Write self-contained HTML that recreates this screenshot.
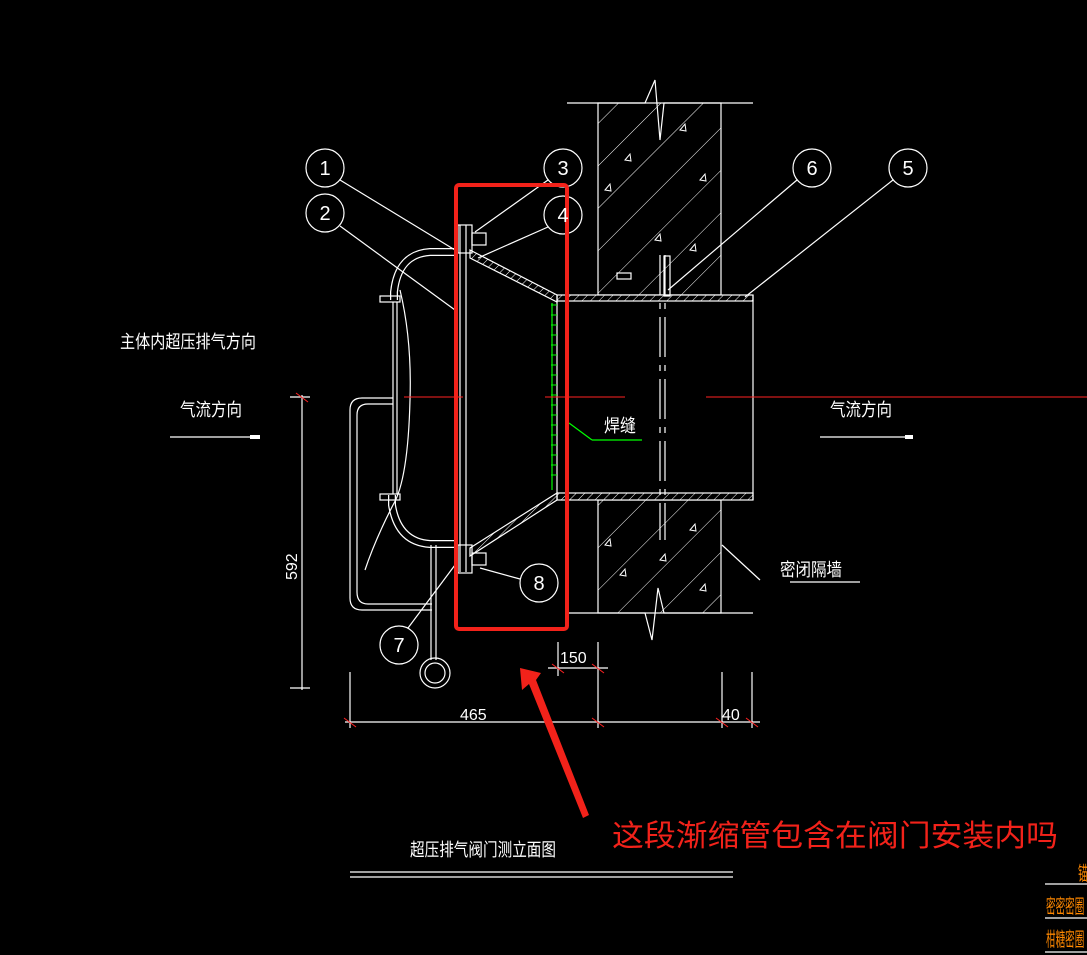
<!DOCTYPE html>
<html><head><meta charset="utf-8"><style>
html,body{margin:0;padding:0;background:#000;}
svg{display:block}
text{font-family:"Liberation Sans","Noto Sans CJK SC",sans-serif;fill:#fff;}
text.o{fill:#f80;}
</style></head><body>
<svg width="1087" height="955" viewBox="0 0 1087 955" xmlns="http://www.w3.org/2000/svg">
<defs>
<pattern id="h" width="6" height="6" patternUnits="userSpaceOnUse" patternTransform="rotate(45)">
<rect width="6" height="6" fill="#000"/><line x1="0" y1="0" x2="0" y2="6" stroke="#fff" stroke-width="1"/></pattern>
<pattern id="c" width="30" height="30" patternUnits="userSpaceOnUse" patternTransform="rotate(-45)">
<line x1="0" y1="0" x2="30" y2="0" stroke="#fff" stroke-width="1"/></pattern>
</defs>
<g fill="none" stroke="#fff" stroke-width="1.2">
<rect x="598" y="103" width="123" height="192" fill="url(#c)"/>
<rect x="598" y="500" width="123" height="113" fill="url(#c)"/>
<polyline points="567,103 645,103 655,80 660,140 664,103 753,103"/>
<polyline points="567,613 645,613 652,640 658,588 664,613 753,613"/>
<g stroke-width="1">
<path d="M605,190 l5,-6 l1,7z M680,130 l5,-6 l1,7z M700,180 l5,-6 l1,7z M655,240 l5,-6 l1,7z M625,160 l5,-6 l1,7z M690,250 l5,-6 l1,7z M605,545 l5,-6 l1,7z M690,530 l5,-6 l1,7z M620,575 l5,-6 l1,7z M700,590 l5,-6 l1,7z M660,560 l5,-6 l1,7z"/>
</g>
<rect x="557" y="295" width="196" height="6" fill="url(#h)"/>
<rect x="557" y="493" width="196" height="7" fill="url(#h)"/>
<line x1="753" y1="295" x2="753" y2="500"/>
<line x1="660" y1="255" x2="660" y2="540" stroke-dasharray="40,8,6,8"/>
<line x1="665" y1="255" x2="665" y2="540" stroke-dasharray="40,8,6,8"/>
<line x1="460" y1="225" x2="460" y2="572"/><line x1="466" y1="225" x2="466" y2="572"/>
<polygon points="470,250 557,295 557,302 470,258" fill="url(#h)"/>
<polygon points="470,548 557,493 557,500 470,556" fill="url(#h)"/>
<line x1="557" y1="295" x2="557" y2="500"/>
<rect x="458" y="225" width="14" height="28"/><rect x="472" y="233" width="14" height="12"/>
<rect x="458" y="545" width="14" height="28"/><rect x="472" y="553" width="14" height="12"/>
<path d="M458,252 L430,252 Q398,254 394,292 L394,300" stroke-width="8" stroke="#fff"/>
<path d="M458,252 L430,252 Q398,254 394,292 L394,300" stroke-width="5.5" stroke="#000"/>
<path d="M458,544 L430,544 Q398,542 392,505 L392,495" stroke-width="8" stroke="#fff"/>
<path d="M458,544 L430,544 Q398,542 392,505 L392,495" stroke-width="5.5" stroke="#000"/>
<rect x="380" y="296" width="20" height="6"/><rect x="380" y="494" width="20" height="6"/>
<line x1="393" y1="302" x2="393" y2="494"/><line x1="397" y1="302" x2="397" y2="494"/>
<path d="M400,290 Q412,340 410,400 Q408,480 393,505 Q375,540 365,570"/>
<path d="M393,398 L362,398 Q350,398 350,410 L350,598 Q350,610 362,610 L432,610"/>
<path d="M393,404 L368,404 Q357,404 357,415 L357,592 Q357,604 368,604 L432,604"/>
<line x1="431" y1="545" x2="431" y2="660"/><line x1="436" y1="545" x2="436" y2="660"/>
<circle cx="435" cy="673" r="15"/><circle cx="435" cy="673" r="10"/>
<rect x="617" y="273" width="14" height="6"/><rect x="664" y="256" width="6" height="40"/>
<circle cx="325" cy="168" r="19"/><circle cx="325" cy="213" r="19"/>
<circle cx="563" cy="168" r="19"/><circle cx="563" cy="215" r="19"/>
<circle cx="812" cy="168" r="19"/><circle cx="908" cy="168" r="19"/>
<circle cx="539" cy="583" r="19"/><circle cx="399" cy="645" r="19"/>
<line x1="340" y1="180" x2="455" y2="250"/><line x1="340" y1="226" x2="455" y2="310"/>
<line x1="548" y1="180" x2="475" y2="232"/><line x1="548" y1="227" x2="478" y2="258"/>
<line x1="797" y1="180" x2="668" y2="290"/><line x1="893" y1="180" x2="745" y2="297"/>
<line x1="520" y1="579" x2="480" y2="568"/><line x1="408" y1="628" x2="455" y2="565"/>
<line x1="302" y1="395" x2="302" y2="690"/><line x1="290" y1="397" x2="310" y2="397"/><line x1="290" y1="688" x2="310" y2="688"/>
<line x1="345" y1="722" x2="760" y2="722"/>
<line x1="350" y1="672" x2="350" y2="728"/><line x1="598" y1="642" x2="598" y2="728"/>
<line x1="722" y1="672" x2="722" y2="728"/><line x1="752" y1="672" x2="752" y2="728"/>
<line x1="548" y1="668" x2="608" y2="668"/><line x1="558" y1="642" x2="558" y2="676"/>
<line x1="170" y1="437" x2="260" y2="437"/><line x1="820" y1="437" x2="912" y2="437"/>
<line x1="790" y1="582" x2="860" y2="582"/>
<line x1="722" y1="545" x2="760" y2="580"/>
<line x1="350" y1="872" x2="733" y2="872"/><line x1="350" y1="877" x2="733" y2="877"/>
<line x1="1045" y1="884" x2="1087" y2="884"/><line x1="1045" y1="918" x2="1087" y2="918"/><line x1="1045" y1="952" x2="1087" y2="952"/>
</g>
<rect x="250" y="435" width="10" height="4" fill="#fff"/><rect x="905" y="435" width="8" height="4" fill="#fff"/>
<g stroke="#0f0" stroke-width="1.2">
<line x1="552" y1="303" x2="552" y2="490"/>
<line x1="569" y1="423" x2="592" y2="440"/><line x1="592" y1="440" x2="642" y2="440"/>
</g>
<path d="M551,305 h6 m-6,10 h6 m-6,10 h6 m-6,10 h6 m-6,10 h6 m-6,10 h6 m-6,10 h6 m-6,10 h6 m-6,10 h6 m-6,10 h6 m-6,10 h6 m-6,10 h6 m-6,10 h6 m-6,10 h6 m-6,10 h6 m-6,10 h6 m-6,10 h6 m-6,10 h6" stroke="#0f0" stroke-width="1"/>
<g stroke="#f22" stroke-width="1">
<line x1="404" y1="397" x2="463" y2="397"/><line x1="545" y1="397" x2="625" y2="397"/>
<line x1="706" y1="397" x2="1087" y2="397"/>
<line x1="344" y1="718" x2="356" y2="727"/><line x1="592" y1="718" x2="604" y2="727"/><line x1="716" y1="718" x2="728" y2="727"/><line x1="746" y1="718" x2="758" y2="727"/>
<line x1="552" y1="664" x2="564" y2="673"/><line x1="592" y1="664" x2="604" y2="673"/>
<line x1="296" y1="393" x2="308" y2="402"/>
</g>
<rect x="456" y="185" width="111" height="444" rx="3" fill="none" stroke="#f2221a" stroke-width="4"/>
<polygon points="520,668 541,673 536,680 589,815 583,818 529,684 522,690" fill="#f2221a"/>
<g font-size="20" text-anchor="middle">
<text x="325" y="175">1</text><text x="325" y="220">2</text><text x="563" y="175">3</text><text x="563" y="222">4</text>
<text x="812" y="175">6</text><text x="908" y="175">5</text><text x="539" y="590">8</text><text x="399" y="652">7</text>
</g>
<g font-size="18">
<text x="120" y="348" textLength="136" lengthAdjust="spacingAndGlyphs">主体内超压排气方向</text>
<text x="180" y="416" textLength="62" lengthAdjust="spacingAndGlyphs">气流方向</text>
<text x="830" y="416" textLength="62" lengthAdjust="spacingAndGlyphs">气流方向</text>
<text x="604" y="432" textLength="32" lengthAdjust="spacingAndGlyphs">焊缝</text>
<text x="780" y="576" textLength="62" lengthAdjust="spacingAndGlyphs">密闭隔墙</text>
<text x="410" y="856" textLength="146" lengthAdjust="spacingAndGlyphs">超压排气阀门测立面图</text>
<text x="460" y="720" font-size="16">465</text><text x="722" y="720" font-size="16">40</text><text x="560" y="663" font-size="16">150</text>
<text transform="translate(297,580) rotate(-90)" font-size="16">592</text>
</g>
<text x="612" y="846" font-size="30" style="fill:#f2221a" textLength="446" lengthAdjust="spacingAndGlyphs">这段渐缩管包含在阀门安装内吗</text>
<g font-size="12">
<text class="o" transform="translate(1078,880) scale(0.8,1.6)">锚</text>
<text class="o" transform="translate(1046,913) scale(0.8,1.6)">密密密圈</text>
<text class="o" transform="translate(1046,946) scale(0.8,1.6)">柑糖密圈</text>
</g>
</svg>
</body></html>
